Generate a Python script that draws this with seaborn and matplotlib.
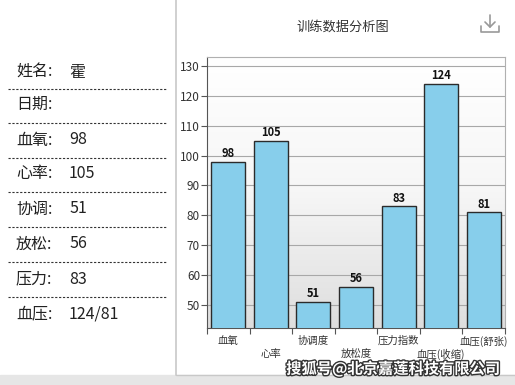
import matplotlib
matplotlib.use("Agg")
import matplotlib.pyplot as plt
import matplotlib.patheffects as pe
from matplotlib.lines import Line2D
from matplotlib.patches import Rectangle
import numpy as np
import pandas as pd
import seaborn as sns

categories = ["血氧", "心率", "协调度", "放松度", "压力指数", "血压(收缩)", "血压(舒张)"]
values = [98, 105, 51, 56, 83, 124, 81]
yticks = [50, 60, 70, 80, 90, 100, 110, 120, 130]
info_labels = ["姓名:", "日期:", "血氧:", "心率:", "协调:", "放松:", "压力:", "血压:"]
info_values = ["霍", "", "98", "105", "51", "56", "83", "124/81"]
title = "训练数据分析图"
watermark = "搜狐号@北京嘉莲科技有限公司"

sns.set_theme(style="white")
plt.rcParams['font.family'] = ['Noto Sans CJK SC', 'DejaVu Sans']

W, H = 515, 385
fig = plt.figure(figsize=(W / 100, H / 100), dpi=100)
fig.patch.set_facecolor("white")

def fx(px):
    return px / W

def fy(py):
    return 1 - py / H

# left info panel
row_y = [72, 104, 140, 174, 209, 244, 279, 314]
for i, (lab, val) in enumerate(zip(info_labels, info_values)):
    fig.text(fx(16), fy(row_y[i]), lab, fontsize=11.5, color="#222222", va="center", ha="left")
    if val:
        fig.text(fx(69), fy(row_y[i]), val, fontsize=11.5, color="#222222", va="center", ha="left")
    if i < len(info_labels) - 1:
        yy = (row_y[i] + row_y[i + 1]) / 2 + 0.5
        fig.add_artist(Line2D([fx(8), fx(167)], [fy(yy), fy(yy)], color="#333333",
                              lw=0.8, linestyle=(0, (2, 1.5))))

# panel border & bottom strip
fig.add_artist(Line2D([fx(176), fx(176)], [fy(0), fy(375)], color="#c8c8c8", lw=1.2))
fig.add_artist(Rectangle((0, 0), 1, 10 / H, transform=fig.transFigure, color="#e6e6e6", zorder=0))
fig.add_artist(Line2D([fx(176), fx(515)], [fy(375), fy(375)], color="#c8c8c8", lw=1.0))

# title
fig.text(fx(343), fy(27), title, fontsize=9.5, color="#333333", ha="center", va="center")

# download icon
ic = "#999999"
cx, cy = 490, 24
fig.add_artist(Line2D([fx(cx), fx(cx)], [fy(cy - 9), fy(cy + 3)], color=ic, lw=1.2))
fig.add_artist(Line2D([fx(cx - 5), fx(cx), fx(cx + 5)], [fy(cy - 2), fy(cy + 3), fy(cy - 2)], color=ic, lw=1.2))
fig.add_artist(Line2D([fx(cx - 9), fx(cx - 9), fx(cx + 9), fx(cx + 9)],
                      [fy(cy + 2), fy(cy + 8), fy(cy + 8), fy(cy + 2)], color=ic, lw=1.2))

# chart
ax = fig.add_axes([fx(207), fy(328), fx(505) - fx(207), fy(57) - fy(328)])
ax.set_facecolor("white")
grad = np.linspace(0, 1, 256).reshape(-1, 1)
ax.imshow(grad, extent=[0, 1, 0, 1], transform=ax.transAxes, aspect="auto",
          cmap=matplotlib.colors.LinearSegmentedColormap.from_list("g", ["#ffffff", "#f6f6f6", "#dedede"]),
          origin="upper", zorder=0)

df = pd.DataFrame({"cat": categories, "val": values})
sns.barplot(data=df, x="cat", y="val", ax=ax, color="#87CEEB", edgecolor="#2b2b2b",
            linewidth=1.0, width=0.8, saturation=1, zorder=3)
ax.set_ylim(42.3, 133)
ax.set_xlim(-0.5, len(categories) - 0.5)
ax.set_yticks(yticks)
ax.yaxis.grid(True, color="#a8a8a8", lw=0.8, zorder=1)
ax.set_axisbelow(True)
ax.set_xlabel("")
ax.set_ylabel("")
for s in ax.spines.values():
    s.set_color("#b0b0b0")
    s.set_linewidth(0.8)
ax.spines["left"].set_color("#555555")
ax.spines["bottom"].set_color("#555555")

ax.tick_params(axis="y", which="major", left=True, length=4, width=0.8, color="#555555",
               labelsize=8.5, labelcolor="#333333", pad=1)
ax.set_xticks(np.arange(len(categories) + 1) - 0.5)
ax.set_xticklabels([])
ax.tick_params(axis="x", bottom=True, length=4, width=0.8, color="#555555", direction="out")

for i, (c, v) in enumerate(zip(categories, values)):
    ax.text(i, v + 0.6, str(v), ha="center", va="bottom", fontsize=8, fontweight="bold", color="#111111")
    ytxt = -0.028 if i % 2 == 0 else -0.078
    ax.text(i, ytxt, c, ha="center", va="top", fontsize=7.5, color="#333333",
            transform=ax.get_xaxis_transform())

# watermark
fig.text(fx(393), fy(369), watermark, fontsize=11, fontweight="bold", color="white",
         ha="center", va="center",
         path_effects=[pe.withStroke(linewidth=2, foreground="#333333")])

fig.savefig("out.png", dpi=100)
